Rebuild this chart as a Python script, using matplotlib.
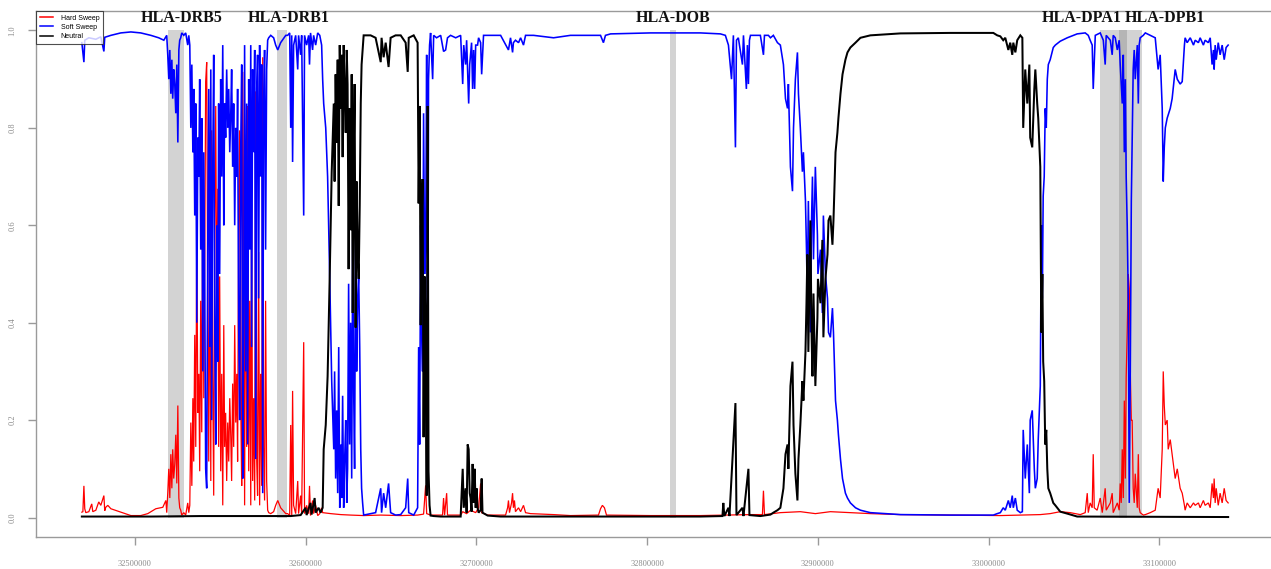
import matplotlib
matplotlib.use("Agg")
import matplotlib.pyplot as plt
from matplotlib.patches import Rectangle
from matplotlib.lines import Line2D
from matplotlib.ticker import FixedLocator, FuncFormatter

# ---- class probabilities along the window (position in kb, probability) ----
hard_sweep = [
    (32469.0, 0.011), (32469.6, 0.012), (32470.2, 0.065), (32470.7, 0.018), (32471.3, 0.010),
    (32473.1, 0.012), (32474.8, 0.028), (32475.4, 0.012), (32477.2, 0.015), (32478.9, 0.032),
    (32480.1, 0.025), (32481.9, 0.045), (32482.4, 0.014), (32483.0, 0.021), (32484.2, 0.025),
    (32486.0, 0.018), (32491.8, 0.011), (32497.7, 0.004), (32503.5, 0.004), (32507.6, 0.008),
    (32512.3, 0.018), (32516.4, 0.021), (32518.2, 0.035), (32518.7, 0.010), (32519.3, 0.050),
    (32519.9, 0.100), (32520.5, 0.040), (32521.1, 0.130), (32521.7, 0.060), (32522.2, 0.140),
    (32522.8, 0.080), (32523.4, 0.110), (32524.0, 0.170), (32524.6, 0.070), (32525.2, 0.230),
    (32525.8, 0.040), (32526.3, 0.020), (32526.9, 0.015), (32527.5, 0.005), (32528.7, 0.010),
    (32529.8, 0.005), (32531.0, 0.030), (32531.6, 0.010),
    (32532.2, 0.025), (32532.8, 0.195), (32533.4, 0.065), (32534.0, 0.245), (32534.5, 0.115),
    (32535.1, 0.375), (32535.7, 0.145), (32536.3, 0.595), (32536.9, 0.215), (32537.5, 0.295),
    (32538.0, 0.095), (32538.6, 0.445), (32539.2, 0.175), (32539.8, 0.695), (32540.4, 0.245),
    (32541.0, 0.545), (32541.5, 0.895), (32542.1, 0.935), (32542.7, 0.445), (32543.3, 0.115),
    (32543.9, 0.645), (32544.5, 0.075), (32545.0, 0.795), (32545.6, 0.295), (32546.2, 0.045),
    (32546.8, 0.595), (32547.4, 0.845), (32548.0, 0.395), (32548.6, 0.675), (32549.1, 0.145),
    (32549.7, 0.495), (32550.3, 0.095), (32550.9, 0.295), (32551.5, 0.025), (32552.1, 0.395),
    (32552.6, 0.145), (32553.2, 0.215), (32553.8, 0.075), (32554.4, 0.195), (32555.0, 0.115),
    (32555.6, 0.245), (32556.2, 0.165), (32556.7, 0.075), (32557.3, 0.275), (32557.9, 0.145),
    (32558.5, 0.395), (32559.1, 0.195), (32559.7, 0.295), (32560.2, 0.115), (32560.8, 0.595),
    (32561.4, 0.795), (32562.0, 0.245), (32562.6, 0.065), (32563.2, 0.915), (32563.8, 0.545),
    (32564.3, 0.025), (32564.9, 0.695), (32565.5, 0.145), (32566.1, 0.845), (32566.7, 0.095),
    (32567.3, 0.445), (32567.9, 0.025), (32568.4, 0.645), (32569.0, 0.075), (32569.6, 0.245),
    (32570.2, 0.035), (32570.8, 0.875), (32571.4, 0.115), (32571.9, 0.045), (32572.5, 0.545),
    (32573.1, 0.025), (32573.7, 0.295), (32574.3, 0.065), (32574.9, 0.945), (32575.4, 0.145),
    (32576.0, 0.035), (32576.6, 0.445), (32577.2, 0.075), (32577.8, 0.015), (32578.4, 0.010),
    (32579.6, 0.008), (32581.3, 0.012), (32582.5, 0.025), (32583.7, 0.035), (32585.4, 0.020),
    (32588.4, 0.008), (32589.5, 0.008), (32590.7, 0.004), (32591.3, 0.190), (32591.9, 0.005),
    (32592.4, 0.260), (32593.0, 0.025), (32594.2, 0.008), (32595.4, 0.075), (32595.9, 0.008),
    (32597.1, 0.045), (32597.7, 0.008), (32598.9, 0.360), (32599.4, 0.008), (32600.6, 0.025),
    (32601.8, 0.008), (32602.3, 0.065), (32602.9, 0.004), (32604.1, 0.035), (32604.7, 0.008),
    (32605.9, 0.025), (32607.1, 0.004), (32608.3, 0.008), (32609.4, 0.020), (32610.0, 0.010),
    (32614.7, 0.008), (32620.6, 0.006), (32626.4, 0.005), (32634.0, 0.004), (32644.0, 0.005),
    (32655.7, 0.004), (32665.6, 0.005), (32669.1, 0.007), (32670.3, 0.066), (32670.9, 0.008),
    (32673.2, 0.005), (32680.2, 0.005), (32680.8, 0.040), (32681.4, 0.005), (32682.6, 0.050),
    (32683.1, 0.005), (32690.8, 0.005), (32692.0, 0.012), (32694.3, 0.008), (32696.6, 0.015),
    (32699.6, 0.010), (32701.3, 0.020), (32702.5, 0.070), (32703.1, 0.010), (32706.6, 0.005),
    (32717.1, 0.005), (32718.3, 0.020), (32718.8, 0.035), (32719.4, 0.010), (32720.6, 0.030),
    (32721.2, 0.050), (32721.7, 0.020), (32722.3, 0.035), (32722.9, 0.012), (32724.7, 0.020),
    (32725.9, 0.012), (32727.6, 0.025), (32728.8, 0.010), (32731.7, 0.008), (32745.2, 0.006),
    (32755.1, 0.004), (32771.5, 0.005), (32772.7, 0.018), (32773.8, 0.025), (32775.0, 0.020),
    (32776.2, 0.005), (32802.0, 0.004), (32831.2, 0.004), (32860.5, 0.006), (32867.5, 0.006),
    (32868.1, 0.055), (32868.7, 0.006), (32878.0, 0.010), (32889.7, 0.012), (32898.5, 0.008),
    (32907.3, 0.012), (32919.0, 0.010), (32930.7, 0.008), (32948.3, 0.006), (32977.5, 0.005),
    (33006.8, 0.004), (33018.5, 0.005), (33030.2, 0.006), (33036.0, 0.008), (33041.9, 0.012),
    (33047.7, 0.010), (33053.6, 0.006), (33056.5, 0.010), (33057.7, 0.050), (33058.3, 0.010),
    (33059.4, 0.030), (33060.6, 0.020), (33061.2, 0.130), (33061.8, 0.020), (33063.5, 0.015),
    (33065.3, 0.040), (33066.5, 0.010), (33068.2, 0.060), (33068.8, 0.015), (33071.2, 0.030),
    (33072.3, 0.050), (33072.9, 0.010), (33074.1, 0.020), (33075.3, 0.030), (33076.4, 0.015),
    (33077.0, 0.070), (33077.6, 0.030), (33078.2, 0.140), (33078.8, 0.040), (33079.4, 0.240),
    (33080.0, 0.080), (33080.5, 0.290), (33081.1, 0.380), (33081.7, 0.500), (33082.3, 0.470),
    (33082.9, 0.300), (33083.5, 0.200), (33084.0, 0.200), (33084.6, 0.060), (33085.2, 0.030),
    (33085.8, 0.090), (33087.0, 0.020), (33087.6, 0.130), (33088.1, 0.020), (33088.7, 0.010),
    (33090.5, 0.005), (33091.7, 0.006), (33094.6, 0.010), (33097.5, 0.015), (33099.2, 0.060),
    (33100.4, 0.040), (33101.6, 0.140), (33102.2, 0.300), (33102.8, 0.230), (33103.4, 0.190),
    (33104.5, 0.200), (33105.1, 0.140), (33106.3, 0.160), (33107.4, 0.130), (33109.2, 0.080),
    (33110.4, 0.100), (33112.1, 0.060), (33113.3, 0.050), (33114.6, 0.025), (33115.0, 0.015),
    (33116.2, 0.030), (33118.0, 0.020), (33119.9, 0.030), (33120.9, 0.025), (33122.8, 0.030),
    (33123.8, 0.020), (33125.7, 0.035), (33126.7, 0.025), (33128.6, 0.030), (33129.7, 0.020),
    (33130.8, 0.070), (33131.6, 0.040), (33132.0, 0.080), (33132.6, 0.030), (33133.2, 0.060),
    (33134.4, 0.025), (33135.5, 0.050), (33136.7, 0.030), (33137.9, 0.060), (33139.0, 0.035),
    (33140.2, 0.030),
]

soft_sweep = [
    (32469.0, 0.975), (32470.2, 0.935), (32470.7, 0.980), (32473.1, 0.985), (32477.2, 0.982),
    (32480.1, 0.987), (32481.9, 0.957), (32482.4, 0.986), (32486.0, 0.990), (32491.8, 0.995),
    (32497.7, 0.997), (32503.5, 0.995), (32509.4, 0.990), (32514.0, 0.985), (32517.0, 0.980),
    (32518.7, 0.990), (32519.3, 0.950), (32519.9, 0.900), (32520.5, 0.960), (32521.1, 0.870),
    (32521.7, 0.940), (32522.2, 0.860), (32522.8, 0.920), (32523.4, 0.890), (32524.0, 0.830),
    (32524.6, 0.930), (32525.2, 0.770), (32525.8, 0.960), (32526.3, 0.980), (32526.9, 0.985),
    (32527.5, 0.995), (32528.7, 0.990), (32529.8, 0.995), (32531.0, 0.970), (32531.6, 0.990),
    (32532.2, 0.970), (32532.8, 0.800), (32533.4, 0.930), (32534.0, 0.750), (32534.5, 0.880),
    (32535.1, 0.620), (32535.7, 0.850), (32536.3, 0.400), (32536.9, 0.780), (32537.5, 0.700),
    (32538.0, 0.900), (32538.6, 0.550), (32539.2, 0.820), (32539.8, 0.300), (32540.4, 0.750),
    (32541.0, 0.450), (32541.5, 0.100), (32542.1, 0.060), (32542.7, 0.550), (32543.3, 0.880),
    (32543.9, 0.350), (32544.5, 0.920), (32545.0, 0.200), (32545.6, 0.700), (32546.2, 0.950),
    (32546.8, 0.400), (32547.4, 0.150), (32548.0, 0.600), (32548.6, 0.320), (32549.1, 0.850),
    (32549.7, 0.500), (32550.3, 0.900), (32550.9, 0.700), (32551.5, 0.970), (32552.1, 0.600),
    (32552.6, 0.850), (32553.2, 0.780), (32553.8, 0.920), (32554.4, 0.800), (32555.0, 0.880),
    (32555.6, 0.750), (32556.2, 0.830), (32556.7, 0.920), (32557.3, 0.720), (32557.9, 0.850),
    (32558.5, 0.600), (32559.1, 0.800), (32559.7, 0.700), (32560.2, 0.880), (32560.8, 0.400),
    (32561.4, 0.200), (32562.0, 0.750), (32562.6, 0.930), (32563.2, 0.080), (32563.8, 0.450),
    (32564.3, 0.970), (32564.9, 0.300), (32565.5, 0.850), (32566.1, 0.150), (32566.7, 0.900),
    (32567.3, 0.550), (32567.9, 0.970), (32568.4, 0.350), (32569.0, 0.920), (32569.6, 0.750),
    (32570.2, 0.960), (32570.8, 0.120), (32571.4, 0.880), (32571.9, 0.950), (32572.5, 0.450),
    (32573.1, 0.970), (32573.7, 0.700), (32574.3, 0.930), (32574.9, 0.050), (32575.4, 0.850),
    (32576.0, 0.960), (32576.6, 0.550), (32577.2, 0.920), (32577.8, 0.980), (32578.4, 0.985),
    (32579.6, 0.990), (32581.3, 0.985), (32582.5, 0.970), (32583.7, 0.960), (32585.4, 0.975),
    (32588.4, 0.990), (32589.5, 0.990), (32590.7, 0.995), (32591.3, 0.800), (32591.9, 0.990),
    (32592.4, 0.730), (32593.0, 0.970), (32594.2, 0.990), (32595.4, 0.920), (32595.9, 0.990),
    (32597.1, 0.950), (32597.7, 0.990), (32598.9, 0.620), (32599.4, 0.990), (32600.6, 0.970),
    (32601.8, 0.990), (32602.3, 0.930), (32602.9, 0.995), (32604.1, 0.960), (32604.7, 0.990),
    (32605.9, 0.970), (32607.1, 0.995), (32608.3, 0.990), (32609.4, 0.970), (32610.0, 0.900),
    (32610.6, 0.850), (32611.8, 0.800), (32612.9, 0.700), (32614.1, 0.500), (32615.3, 0.280),
    (32616.5, 0.140), (32617.0, 0.300), (32617.6, 0.080), (32618.2, 0.220), (32618.8, 0.050),
    (32619.4, 0.350), (32620.0, 0.020), (32620.6, 0.150), (32621.1, 0.040), (32621.7, 0.250),
    (32622.3, 0.020), (32622.9, 0.120), (32623.5, 0.200), (32624.1, 0.030), (32624.6, 0.100),
    (32625.2, 0.480), (32625.8, 0.150), (32626.4, 0.400), (32627.0, 0.080), (32627.6, 0.570),
    (32628.2, 0.250), (32628.7, 0.100), (32629.3, 0.600), (32629.9, 0.300), (32630.5, 0.450),
    (32631.1, 0.500), (32631.7, 0.350), (32632.3, 0.140), (32632.8, 0.060), (32633.4, 0.030),
    (32634.0, 0.005), (32638.1, 0.008), (32641.0, 0.010), (32644.0, 0.060), (32644.5, 0.010),
    (32645.7, 0.050), (32646.9, 0.020), (32648.6, 0.070), (32649.8, 0.010), (32652.7, 0.005),
    (32655.7, 0.006), (32658.6, 0.020), (32659.8, 0.080), (32660.4, 0.010), (32663.3, 0.005),
    (32665.6, 0.020), (32666.2, 0.350), (32666.8, 0.150), (32667.4, 0.600), (32667.9, 0.400),
    (32668.5, 0.300), (32669.1, 0.830), (32669.7, 0.500), (32670.3, 0.550), (32670.9, 0.950),
    (32671.5, 0.150), (32672.0, 0.900), (32672.6, 0.970), (32673.2, 0.995), (32674.4, 0.900),
    (32675.0, 0.990), (32676.7, 0.985), (32679.1, 0.990), (32680.8, 0.957), (32682.0, 0.960),
    (32683.1, 0.985), (32684.9, 0.990), (32687.9, 0.985), (32690.8, 0.990), (32692.0, 0.890),
    (32692.6, 0.970), (32693.7, 0.930), (32694.3, 0.980), (32695.5, 0.850), (32696.1, 0.930),
    (32696.6, 0.950), (32697.2, 0.975), (32697.8, 0.880), (32698.4, 0.960), (32699.0, 0.880),
    (32699.6, 0.970), (32700.7, 0.970), (32701.3, 0.985), (32702.5, 0.975), (32703.1, 0.910),
    (32704.2, 0.990), (32708.3, 0.990), (32714.2, 0.990), (32718.8, 0.960), (32720.0, 0.985),
    (32721.2, 0.955), (32721.7, 0.975), (32722.9, 0.980), (32724.7, 0.975), (32725.9, 0.985),
    (32727.6, 0.970), (32728.8, 0.990), (32733.5, 0.990), (32745.2, 0.985), (32755.1, 0.990),
    (32771.5, 0.990), (32772.7, 0.990), (32774.4, 0.975), (32775.6, 0.990), (32778.6, 0.993),
    (32802.0, 0.995), (32831.2, 0.995), (32842.9, 0.993), (32845.8, 0.990), (32847.6, 0.970),
    (32849.4, 0.900), (32850.5, 0.990), (32851.7, 0.760), (32852.3, 0.980), (32853.4, 0.985),
    (32855.8, 0.930), (32856.4, 0.990), (32858.1, 0.880), (32858.7, 0.970), (32859.3, 0.890),
    (32859.9, 0.980), (32860.5, 0.990), (32863.4, 0.990), (32866.3, 0.990), (32868.1, 0.950),
    (32868.7, 0.990), (32871.0, 0.990), (32872.2, 0.985), (32873.9, 0.990), (32876.3, 0.975),
    (32878.0, 0.970), (32879.8, 0.930), (32881.0, 0.860), (32882.2, 0.840), (32882.7, 0.890),
    (32883.9, 0.720), (32885.1, 0.670), (32885.7, 0.800), (32886.8, 0.900), (32888.0, 0.955),
    (32888.6, 0.870), (32889.7, 0.800), (32890.9, 0.710), (32891.5, 0.750), (32892.7, 0.650),
    (32893.3, 0.550), (32893.8, 0.450), (32894.4, 0.650), (32895.0, 0.520), (32895.6, 0.380),
    (32896.2, 0.600), (32896.8, 0.700), (32897.4, 0.530), (32898.5, 0.720), (32899.7, 0.580),
    (32900.0, 0.500), (32901.5, 0.550), (32902.6, 0.420), (32903.2, 0.620), (32904.4, 0.500),
    (32905.6, 0.450), (32906.2, 0.380), (32907.3, 0.370), (32908.5, 0.430), (32909.1, 0.380),
    (32910.3, 0.240), (32911.4, 0.200), (32912.0, 0.170), (32913.2, 0.120), (32914.4, 0.080),
    (32916.1, 0.050), (32917.3, 0.040), (32919.0, 0.030), (32922.0, 0.020), (32924.9, 0.015),
    (32930.7, 0.010), (32948.3, 0.006), (32977.5, 0.005), (33002.7, 0.005), (33005.0, 0.008),
    (33006.8, 0.010), (33008.5, 0.020), (33009.7, 0.015), (33011.5, 0.035), (33012.6, 0.020),
    (33013.8, 0.045), (33014.4, 0.020), (33015.6, 0.040), (33016.7, 0.015), (33018.5, 0.010),
    (33019.7, 0.012), (33020.2, 0.180), (33021.4, 0.080), (33022.6, 0.150), (33023.8, 0.050),
    (33024.3, 0.200), (33025.5, 0.220), (33026.7, 0.100), (33027.3, 0.060), (33028.4, 0.080),
    (33029.0, 0.160), (33030.2, 0.270), (33030.8, 0.600), (33031.4, 0.450), (33031.9, 0.660),
    (33032.5, 0.700), (33033.1, 0.840), (33033.7, 0.800), (33034.3, 0.900), (33034.9, 0.930),
    (33036.0, 0.940), (33037.8, 0.965), (33039.0, 0.970), (33041.9, 0.978), (33046.0, 0.985),
    (33051.8, 0.993), (33056.5, 0.995), (33058.3, 0.990), (33059.4, 0.980), (33060.6, 0.970),
    (33061.2, 0.880), (33062.4, 0.990), (33065.3, 0.995), (33067.1, 0.980), (33068.2, 0.930),
    (33068.8, 0.990), (33071.2, 0.980), (33072.3, 0.950), (33072.9, 0.990), (33074.1, 0.985),
    (33075.3, 0.960), (33076.4, 0.980), (33077.0, 0.930), (33078.2, 0.850), (33078.8, 0.950),
    (33079.4, 0.750), (33080.0, 0.900), (33080.5, 0.700), (33081.1, 0.600), (33081.7, 0.450),
    (33082.3, 0.030), (33082.9, 0.300), (33083.5, 0.650), (33084.0, 0.770), (33084.6, 0.920),
    (33085.2, 0.960), (33085.8, 0.900), (33087.0, 0.970), (33087.6, 0.850), (33088.1, 0.970),
    (33088.7, 0.985), (33090.5, 0.990), (33091.7, 0.995), (33094.6, 0.990), (33097.5, 0.985),
    (33099.2, 0.920), (33100.4, 0.950), (33101.6, 0.840), (33102.2, 0.690), (33102.8, 0.760),
    (33103.4, 0.800), (33104.5, 0.820), (33106.3, 0.840), (33107.4, 0.860), (33109.2, 0.920),
    (33110.4, 0.900), (33112.1, 0.890), (33113.3, 0.895), (33114.6, 0.970), (33115.0, 0.985),
    (33116.2, 0.975), (33118.0, 0.985), (33119.9, 0.970), (33120.9, 0.980), (33122.8, 0.975),
    (33123.8, 0.985), (33125.7, 0.970), (33126.7, 0.980), (33128.6, 0.975), (33129.7, 0.985),
    (33130.8, 0.930), (33131.6, 0.960), (33132.0, 0.920), (33132.6, 0.970), (33133.2, 0.940),
    (33134.4, 0.975), (33135.5, 0.950), (33136.7, 0.970), (33137.9, 0.940), (33139.0, 0.965),
    (33140.2, 0.970),
]

neutral = [
    (32469.0, 0.002), (32509.4, 0.002), (32538.6, 0.003), (32567.9, 0.003), (32591.3, 0.003),
    (32597.1, 0.005), (32600.0, 0.020), (32600.6, 0.005), (32602.9, 0.030), (32603.5, 0.006),
    (32605.3, 0.040), (32605.9, 0.010), (32607.6, 0.020), (32608.8, 0.010), (32610.0, 0.020),
    (32610.6, 0.140), (32611.8, 0.190), (32612.9, 0.290), (32614.1, 0.490), (32615.3, 0.710),
    (32616.5, 0.850), (32617.0, 0.690), (32617.6, 0.910), (32618.2, 0.770), (32618.8, 0.940),
    (32619.4, 0.640), (32620.0, 0.970), (32620.6, 0.840), (32621.1, 0.950), (32621.7, 0.740),
    (32622.3, 0.970), (32622.9, 0.870), (32623.5, 0.790), (32624.1, 0.960), (32624.6, 0.890),
    (32625.2, 0.510), (32625.8, 0.840), (32626.4, 0.590), (32627.0, 0.910), (32627.6, 0.420),
    (32628.2, 0.740), (32628.7, 0.890), (32629.3, 0.390), (32629.9, 0.690), (32630.5, 0.540),
    (32631.1, 0.490), (32631.7, 0.640), (32632.3, 0.850), (32632.8, 0.930), (32633.4, 0.960),
    (32634.0, 0.990), (32638.1, 0.990), (32641.0, 0.985), (32644.0, 0.935), (32644.5, 0.985),
    (32645.7, 0.945), (32646.9, 0.975), (32648.6, 0.925), (32649.8, 0.985), (32652.7, 0.990),
    (32655.7, 0.990), (32658.6, 0.975), (32659.8, 0.915), (32660.4, 0.985), (32663.3, 0.990),
    (32665.6, 0.975), (32666.2, 0.645), (32666.8, 0.845), (32667.4, 0.395), (32667.9, 0.595),
    (32668.5, 0.695), (32669.1, 0.165), (32669.7, 0.495), (32670.3, 0.380), (32670.9, 0.045),
    (32671.5, 0.845), (32672.0, 0.095), (32672.6, 0.025), (32673.2, 0.004), (32675.0, 0.003),
    (32679.1, 0.002), (32690.8, 0.002), (32692.0, 0.100), (32692.6, 0.020), (32693.7, 0.060),
    (32694.3, 0.010), (32694.9, 0.150), (32695.5, 0.140), (32696.1, 0.050), (32696.6, 0.040),
    (32697.2, 0.012), (32697.8, 0.110), (32698.4, 0.030), (32699.0, 0.100), (32699.6, 0.020),
    (32700.1, 0.060), (32700.7, 0.020), (32701.3, 0.010), (32702.5, 0.015), (32703.1, 0.080),
    (32703.6, 0.010), (32706.6, 0.004), (32714.2, 0.002), (32831.2, 0.002), (32844.1, 0.003),
    (32844.6, 0.030), (32845.2, 0.003), (32847.6, 0.020), (32848.2, 0.003), (32851.7, 0.235),
    (32852.3, 0.005), (32855.8, 0.020), (32856.4, 0.003), (32859.3, 0.100), (32859.9, 0.005),
    (32866.3, 0.003), (32872.2, 0.006), (32873.9, 0.010), (32876.3, 0.015), (32878.0, 0.020),
    (32879.8, 0.060), (32881.0, 0.130), (32882.2, 0.150), (32882.7, 0.100), (32883.9, 0.270),
    (32885.1, 0.320), (32885.7, 0.190), (32886.8, 0.090), (32888.0, 0.035), (32888.6, 0.120),
    (32889.7, 0.190), (32890.9, 0.280), (32891.5, 0.240), (32892.7, 0.340), (32893.3, 0.440),
    (32893.8, 0.540), (32894.4, 0.340), (32895.0, 0.470), (32895.6, 0.610), (32896.2, 0.390),
    (32896.8, 0.290), (32897.4, 0.460), (32898.5, 0.270), (32899.7, 0.410), (32900.0, 0.490),
    (32901.5, 0.440), (32902.6, 0.570), (32903.2, 0.370), (32904.4, 0.490), (32905.6, 0.540),
    (32906.2, 0.610), (32907.3, 0.620), (32908.5, 0.560), (32909.1, 0.610), (32910.3, 0.750),
    (32911.4, 0.790), (32912.0, 0.820), (32913.2, 0.870), (32914.4, 0.910), (32916.1, 0.940),
    (32917.3, 0.955), (32919.0, 0.965), (32922.0, 0.975), (32924.9, 0.985), (32930.7, 0.990),
    (32948.3, 0.994), (32977.5, 0.995), (33002.7, 0.995), (33005.0, 0.990), (33006.8, 0.988),
    (33008.5, 0.980), (33009.7, 0.985), (33011.5, 0.960), (33012.6, 0.975), (33013.8, 0.950),
    (33014.4, 0.975), (33015.6, 0.955), (33016.7, 0.980), (33018.5, 0.990), (33019.7, 0.985),
    (33020.2, 0.800), (33021.4, 0.920), (33022.6, 0.850), (33023.8, 0.930), (33024.3, 0.780),
    (33025.5, 0.760), (33026.7, 0.880), (33027.3, 0.920), (33028.4, 0.850), (33029.0, 0.820),
    (33030.2, 0.720), (33030.8, 0.380), (33031.4, 0.500), (33031.9, 0.320), (33032.5, 0.280),
    (33033.1, 0.150), (33033.7, 0.180), (33034.3, 0.100), (33034.9, 0.060), (33036.0, 0.050),
    (33037.8, 0.030), (33039.0, 0.025), (33041.9, 0.012), (33046.0, 0.008), (33051.8, 0.002),
    (33140.2, 0.001),
]

tick_positions = [32500000, 32600000, 32700000, 32800000, 32900000, 33000000, 33100000]
y_ticks = [0.0, 0.2, 0.4, 0.6, 0.8, 1.0]

# shaded gene bodies: (name, start kb, end kb, label x kb)
genes = [
    ("HLA-DRB5", 32519.3, 32528.8, 32527.5),
    ("HLA-DRB1", 32583.1, 32589.4, 32590.1),
    ("HLA-DOB", 32813.3, 32816.8, 32815.1),
    ("HLA-DPA1", 33064.9, 33080.9, 33054.5),
    ("HLA-DPB1", 33076.4, 33089.9, 33103.0),
]

series = [
    ("Hard Sweep", hard_sweep, "#ff0000", 0.9),
    ("Soft Sweep", soft_sweep, "#0000ff", 1.15),
    ("Neutral", neutral, "#000000", 1.45),
]

fig = plt.figure(figsize=(12.71, 5.69), dpi=100)
ax = fig.add_axes([36 / 1271, 32 / 569, 1238 / 1271, 526 / 569])

for name, start, end, _ in genes:
    ax.add_patch(Rectangle((start * 1000, 0), (end - start) * 1000, 1,
                           facecolor=(0.45, 0.45, 0.45), alpha=0.31,
                           edgecolor="none", zorder=1))

all_kb = []
for name, pts, color, lw in series:
    kb = [p[0] for p in pts]
    val = [p[1] for p in pts]
    all_kb.extend(kb)
    ax.plot([k * 1000 for k in kb], val, color=color, lw=lw, zorder=2,
            solid_joinstyle="miter")

lo, hi = min(all_kb) * 1000, max(all_kb) * 1000
span = hi - lo
ax.set_xlim(lo - 0.04 * span, hi + 0.04 * span)
ax.set_ylim(-0.04, 1.04)

for name, start, end, lab in genes:
    ax.text(lab * 1000, 1.025, name, ha="center", va="center",
            fontsize=11.5, fontweight="bold", family="Liberation Serif",
            color="#111111", zorder=4)

axis_grey = "#9a9a9a"
for s in ax.spines.values():
    s.set_color(axis_grey)
    s.set_linewidth(1.0)

ax.xaxis.set_major_locator(FixedLocator(tick_positions))
ax.xaxis.set_major_formatter(FuncFormatter(lambda v, p: "%d" % v))
ax.yaxis.set_major_locator(FixedLocator(y_ticks))
ax.yaxis.set_major_formatter(FuncFormatter(lambda v, p: "%.1f" % v))
ax.tick_params(axis="both", direction="out", length=6, width=1.0,
               color=axis_grey, labelcolor="#8a8a8a", labelsize=6)
ax.tick_params(axis="x", pad=10.5)
ax.tick_params(axis="y", pad=8, labelrotation=90)
for lab in ax.get_xticklabels() + ax.get_yticklabels():
    lab.set_family("Liberation Serif")
for lab in ax.get_yticklabels():
    lab.set_va("center")

handles = [Line2D([], [], color=c, lw=1.1) for _, _, c, _ in series]
leg = ax.legend(handles, [s[0] for s in series], loc="upper left",
                bbox_to_anchor=(0, 1), borderaxespad=0, frameon=True,
                fancybox=False, edgecolor="#222222",
                prop={"family": "Liberation Sans", "size": 5},
                handlelength=1.9, handletextpad=1.1, labelspacing=0.3,
                borderpad=0.55)
leg.get_frame().set_linewidth(0.8)
leg.set_zorder(5)

fig.savefig("out.png", dpi=100, facecolor="white")
